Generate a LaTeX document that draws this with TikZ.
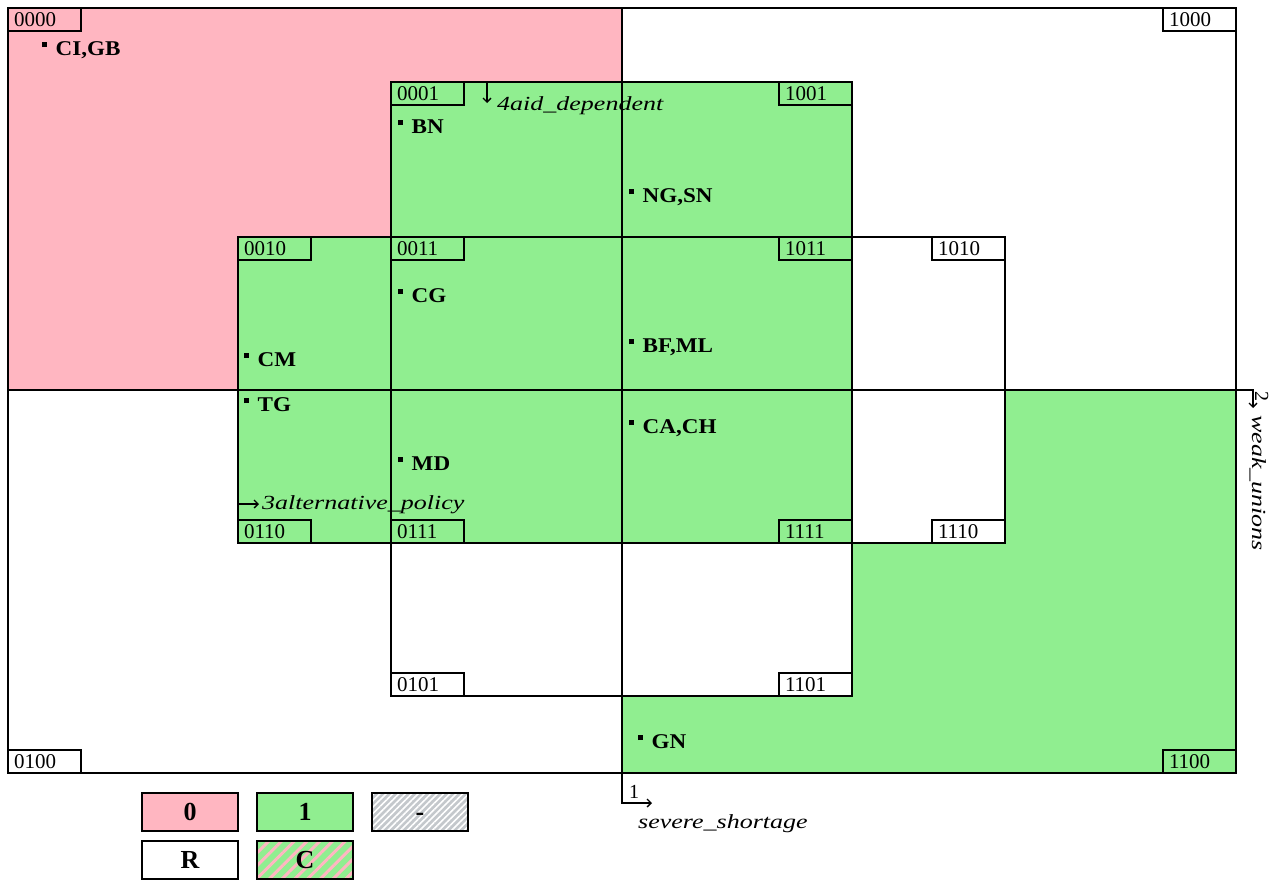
\documentclass[tikz,border=0pt]{standalone}
\usepackage{fontspec}
\setmainfont{Liberation Serif}
\newfontfamily\ptfont[FakeStretch=1.1]{Liberation Serif}
\newfontfamily\varfont[FakeStretch=1.3]{Liberation Serif}
\usetikzlibrary{arrows.meta,patterns.meta}
\definecolor{kpink}{HTML}{FFB6C1}
\definecolor{kgreen}{HTML}{90EE90}
\definecolor{kgrey}{HTML}{C4C8CC}
\newcommand\ptdot{\rule[8pt]{5pt}{5pt}\hspace{8.5pt}}
\newcommand\kmapcell[6]{\node[cellbox,fill=#6,minimum width=#4pt-#2pt,minimum height=#5pt-#3pt] (#1) at ({(#2+#4)/2},{(#3+#5)/2}) {};}
\tikzset{
  cellbox/.style={draw=black, line width=1.7pt, inner sep=0pt, outer sep=0pt},
  lab/.style={draw=black, line width=1.3pt, inner xsep=6pt, inner ysep=0pt, text width=61pt, minimum height=23pt, align=left, outer sep=0pt, font=\fontsize{21}{21}\selectfont},
  pt/.style={anchor=base west, inner sep=0pt, font=\ptfont\bfseries\fontsize{21}{21}\selectfont},
  var/.style={anchor=base west, inner sep=0pt, font=\varfont\itshape\fontsize{20}{20}\selectfont},
  vardigit/.style={anchor=base west, inner sep=0pt, font=\fontsize{20}{20}\selectfont},
  varline/.style={line width=1.3pt, -{Straight Barb[length=4pt,width=8pt]}},
  legbox/.style={draw=black, line width=1.5pt, minimum width=96pt, minimum height=38pt, inner sep=0pt, font=\bfseries\fontsize{26}{26}\selectfont},
  legpat/.style 2 args={postaction={pattern={Lines[angle=45,distance=#1,line width=#2]}}, postaction={draw=black, line width=1.5pt}},
}
\begin{document}
\begin{tikzpicture}[x=1pt,y=-1pt]
\useasboundingbox (0,0) rectangle (1275,881);
\fill[white] (0,0) rectangle (1275,881);
% outer quadrants
\kmapcell{c0000}{8}{8}{622}{390}{kpink}
\kmapcell{c1000}{622}{8}{1236}{390}{white}
\kmapcell{c0100}{8}{390}{622}{773}{white}
\kmapcell{c1100}{622}{390}{1236}{773}{kgreen}
% inner cells
\kmapcell{c0001}{391}{82}{622}{237}{kgreen}
\kmapcell{c1001}{622}{82}{852}{237}{kgreen}
\kmapcell{c0010}{238}{237}{391}{390}{kgreen}
\kmapcell{c0011}{391}{237}{622}{390}{kgreen}
\kmapcell{c1011}{622}{237}{852}{390}{kgreen}
\kmapcell{c1010}{852}{237}{1005}{390}{white}
\kmapcell{c0110}{238}{390}{391}{543}{kgreen}
\kmapcell{c0111}{391}{390}{622}{543}{kgreen}
\kmapcell{c1111}{622}{390}{852}{543}{kgreen}
\kmapcell{c1110}{852}{390}{1005}{543}{white}
\kmapcell{c0101}{391}{543}{622}{696}{white}
\kmapcell{c1101}{622}{543}{852}{696}{white}
% cell labels
\node[lab, anchor=north west] (l0000) at (c0000.north west) {0000};
\node[lab, anchor=north east] (l1000) at (c1000.north east) {1000};
\node[lab, anchor=south west] (l0100) at (c0100.south west) {0100};
\node[lab, anchor=south east] (l1100) at (c1100.south east) {1100};
\node[lab, anchor=north west] (l0001) at (c0001.north west) {0001};
\node[lab, anchor=north east] (l1001) at (c1001.north east) {1001};
\node[lab, anchor=north west] (l0010) at (c0010.north west) {0010};
\node[lab, anchor=north west] (l0011) at (c0011.north west) {0011};
\node[lab, anchor=north east] (l1011) at (c1011.north east) {1011};
\node[lab, anchor=north east] (l1010) at (c1010.north east) {1010};
\node[lab, anchor=south west] (l0110) at (c0110.south west) {0110};
\node[lab, anchor=south west] (l0111) at (c0111.south west) {0111};
\node[lab, anchor=south east] (l1111) at (c1111.south east) {1111};
\node[lab, anchor=south east] (l1110) at (c1110.south east) {1110};
\node[lab, anchor=south west] (l0101) at (c0101.south west) {0101};
\node[lab, anchor=south east] (l1101) at (c1101.south east) {1101};
% points
\node[pt] (pCIGB) at (42,55) {\ptdot CI,GB};
\node[pt] (pBN) at (398,133) {\ptdot BN};
\node[pt] (pNGSN) at (629,202) {\ptdot NG,SN};
\node[pt] (pCG) at (398,302) {\ptdot CG};
\node[pt] (pCM) at (244,366) {\ptdot CM};
\node[pt] (pBFML) at (629,352) {\ptdot BF,ML};
\node[pt] (pTG) at (244,411) {\ptdot TG};
\node[pt] (pCACH) at (629,433) {\ptdot CA,CH};
\node[pt] (pMD) at (398,470) {\ptdot MD};
\node[pt] (pGN) at (638,748) {\ptdot GN};
% variable 4
\coordinate (v4a) at (487,83);
\coordinate (v4b) at (487,103);
\draw[varline] (v4a) -- (v4b);
\node[var] (v4) at (497,110) {4aid\_dependent};
% variable 3
\coordinate (v3a) at (238,504);
\coordinate (v3b) at (259,504);
\draw[varline] (v3a) -- (v3b);
\node[var] (v3) at (262,509) {3alternative\_policy};
% variable 1
\coordinate (v1b) at (652,803);
\draw[varline] (c0100.south east) |- (v1b);
\node[vardigit] (v1d) at (629,798) {1};
\node[var] (v1) at (638,828) {severe\_shortage};
% variable 2
\coordinate (v2b) at (1253,408);
\draw[varline] (c1000.south east) -| (v2b);
\node[vardigit, rotate=-90] (v2d) at (1255,391) {2};
\node[var, rotate=-90] (v2) at (1252,415) {weak\_unions};
% legend
\node[legbox, fill=kpink] (leg0) at (190,812) {0};
\node[legbox, fill=kgreen] (leg1) at (305,812) {1};
\node[legbox, fill=kgrey, pattern color=white, legpat={4.5pt}{1.6pt}] (legd) at (420,812) {\vphantom{0}-};
\node[legbox, fill=white] (legR) at (190,860) {R};
\node[legbox, fill=kgreen, pattern color=kpink, legpat={9pt}{3pt}] (legC) at (305,860) {C};
\end{tikzpicture}
\end{document}
